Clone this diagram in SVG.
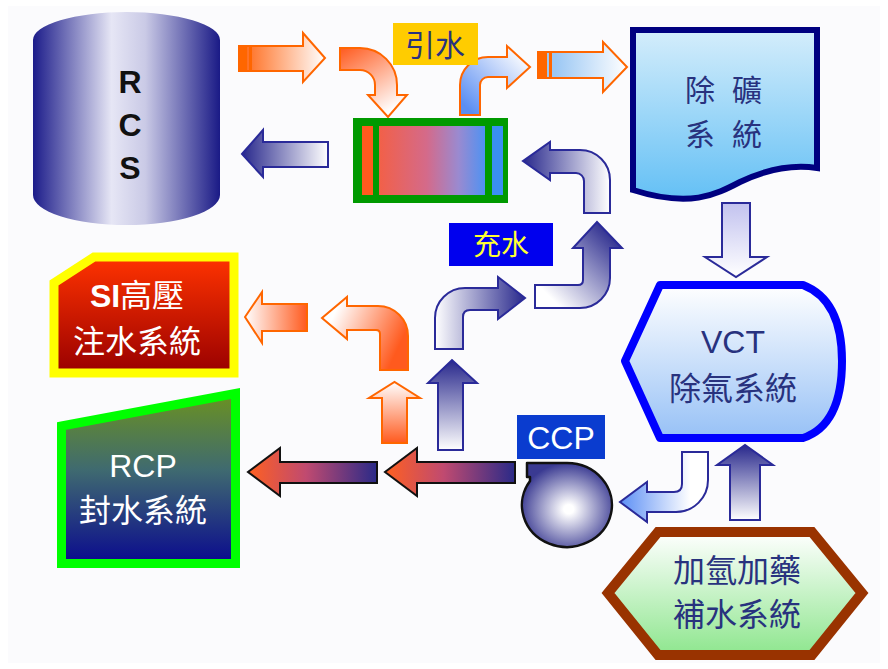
<svg xmlns="http://www.w3.org/2000/svg" width="888" height="669" viewBox="0 0 888 669">
<style>
.cjk{font-family:"Noto Sans CJK TC","Noto Sans CJK SC",sans-serif;text-anchor:middle}
.lat{font-family:"Liberation Sans",Arial,sans-serif;text-anchor:middle}
.navytxt{fill:#28327e}
.whitetxt{fill:#ffffff}
.oa{stroke:#ff6600;stroke-width:2;stroke-linejoin:miter}
.na{stroke:#2a2a99;stroke-width:2}
.ba{stroke:#111111;stroke-width:2}
</style>
<defs>
<linearGradient id="cyl" x1="0" y1="0" x2="1" y2="0">
<stop offset="0" stop-color="#1c1c8a"/><stop offset="0.42" stop-color="#e6e6f5"/><stop offset="0.6" stop-color="#cacae6"/><stop offset="1" stop-color="#1a1a86"/>
</linearGradient>
<linearGradient id="oRW" x1="0" y1="0" x2="1" y2="0"><stop offset="0.05" stop-color="#ff6a1a"/><stop offset="1" stop-color="#ffffff"/></linearGradient>
<linearGradient id="oLW" x1="0" y1="0" x2="1" y2="0"><stop offset="0" stop-color="#ffffff"/><stop offset="1" stop-color="#ff5a1e"/></linearGradient>
<linearGradient id="oDown" x1="0" y1="0" x2="0.6" y2="1"><stop offset="0" stop-color="#ff5a1e"/><stop offset="1" stop-color="#ffffff"/></linearGradient>
<linearGradient id="oCurve" x1="0" y1="0.3" x2="1" y2="0.7"><stop offset="0.1" stop-color="#ffffff"/><stop offset="0.9" stop-color="#ff5a1e"/></linearGradient>
<linearGradient id="oUp" x1="0" y1="0" x2="0" y2="1"><stop offset="0" stop-color="#ffffff"/><stop offset="1" stop-color="#ff5a1e"/></linearGradient>
<linearGradient id="bUpR" x1="0" y1="1" x2="1" y2="0"><stop offset="0.1" stop-color="#5b8ef2"/><stop offset="0.9" stop-color="#ffffff"/></linearGradient>
<linearGradient id="lbR" x1="0" y1="0" x2="1" y2="0"><stop offset="0.2" stop-color="#9cc8f4"/><stop offset="1" stop-color="#ffffff"/></linearGradient>
<linearGradient id="nLW" x1="0" y1="0" x2="1" y2="0"><stop offset="0" stop-color="#28288c"/><stop offset="1" stop-color="#ffffff"/></linearGradient>
<linearGradient id="nRW" x1="0" y1="0" x2="1" y2="0"><stop offset="0" stop-color="#ffffff"/><stop offset="1" stop-color="#28288c"/></linearGradient>
<linearGradient id="nTop" x1="0" y1="0" x2="0" y2="1"><stop offset="0" stop-color="#28288c"/><stop offset="1" stop-color="#ffffff"/></linearGradient>
<linearGradient id="nUpCurve" x1="0" y1="1" x2="1" y2="0"><stop offset="0.15" stop-color="#ffffff"/><stop offset="0.9" stop-color="#28288c"/></linearGradient>
<linearGradient id="lvDown" x1="0" y1="0" x2="0" y2="1"><stop offset="0" stop-color="#c2c2ef"/><stop offset="1" stop-color="#ffffff"/></linearGradient>
<linearGradient id="lbL" x1="0" y1="0" x2="1" y2="0"><stop offset="0" stop-color="#5c8ff5"/><stop offset="0.8" stop-color="#ffffff"/></linearGradient>
<linearGradient id="big" x1="0" y1="0" x2="1" y2="0"><stop offset="0" stop-color="#ff6020"/><stop offset="0.45" stop-color="#c04a70"/><stop offset="1" stop-color="#2a2a88"/></linearGradient>
<linearGradient id="hx" x1="0" y1="0" x2="1" y2="0"><stop offset="0" stop-color="#f26048"/><stop offset="0.45" stop-color="#d46a8a"/><stop offset="0.75" stop-color="#9a8ad0"/><stop offset="1" stop-color="#4f92f2"/></linearGradient>
<linearGradient id="doc" x1="0" y1="0" x2="0" y2="1"><stop offset="0" stop-color="#d4edfb"/><stop offset="1" stop-color="#64c0f5"/></linearGradient>
<linearGradient id="vct" x1="0" y1="0" x2="0" y2="1"><stop offset="0" stop-color="#ffffff"/><stop offset="1" stop-color="#97c1f6"/></linearGradient>
<linearGradient id="si" x1="0" y1="0" x2="0" y2="1"><stop offset="0" stop-color="#ff3300"/><stop offset="1" stop-color="#990000"/></linearGradient>
<linearGradient id="rcp" x1="0" y1="0" x2="0" y2="1"><stop offset="0" stop-color="#6b9220"/><stop offset="0.45" stop-color="#3f6a70"/><stop offset="1" stop-color="#0a0a8e"/></linearGradient>
<linearGradient id="hex" x1="0" y1="0" x2="0" y2="1"><stop offset="0" stop-color="#ffffff"/><stop offset="1" stop-color="#8ee68e"/></linearGradient>
<radialGradient id="pump" cx="0.52" cy="0.55" r="0.55"><stop offset="0.1" stop-color="#ffffff"/><stop offset="1" stop-color="#3a3a92"/></radialGradient>
</defs>
<rect x="0" y="0" width="888" height="669" fill="#ffffff"/>
<rect x="8" y="6" width="872" height="657" fill="#fbfbfd"/>

<g id="connectors">
<polygon class="oa" fill="url(#oRW)" points="239,46 303,46 303,33 325,58 303,82 303,71 239,71"/>
<rect x="239" y="47" width="8" height="23" fill="#ff6600"/>
<rect x="249" y="47" width="3" height="23" fill="#ff6600"/>
<path class="oa" fill="url(#oDown)" d="M340,48 L360,48 A37,37 0 0 1 397,85 L397,95 L407,95 L388,117 L368,95 L375,95 L375,85 A15,15 0 0 0 360,70 L340,70 Z"/>
<path class="oa" fill="url(#bUpR)" d="M460,115 L460,85 A28,28 0 0 1 488,57 L507,57 L507,46 L530,67 L507,88 L507,77 L488,77 A8,8 0 0 0 480,85 L480,115 Z"/>
<polygon class="oa" fill="url(#lbR)" points="538,52 603,52 603,42 627,67 603,92 603,78 538,78"/>
<rect x="538" y="53" width="9" height="24" fill="#ff6600"/>
<rect x="549" y="53" width="3" height="24" fill="#ff6600"/>
<polygon class="na" fill="url(#nLW)" points="242,154 263,130 263,142 328,142 328,167 263,167 263,177"/>
<path class="na" fill="url(#nLW)" d="M610,213 L610,180 A30,30 0 0 0 580,150 L550,150 L550,142 L523,161 L550,180 L550,173 L576,173 A8,8 0 0 1 584,181 L584,213 Z"/>
<polygon class="na" fill="url(#lvDown)" stroke="#4a4aa8" points="722,203 750,203 750,257 767,257 736,277 705,257 722,257"/>
<polygon class="oa" fill="url(#oLW)" points="245,317 262,292 262,304 307,304 307,331 262,331 262,343"/>
<path class="oa" fill="url(#oCurve)" d="M408,370 L408,336 A30,30 0 0 0 378,306 L347,306 L347,297 L322,318 L347,339 L347,330 L376,330 Q380,330 380,334 L380,370 Z"/>
<polygon class="oa" fill="url(#oUp)" points="382,443 382,398 369,398 394.5,382 420,398 407,398 407,443"/>
<polygon class="na" fill="url(#nTop)" points="438,450 438,383 428,383 452,360 477,383 463,383 463,450"/>
<path class="na" fill="url(#nRW)" d="M435,349 L435,318 A30,30 0 0 1 465,288 L498,288 L498,277 L525,298 L498,319 L498,310 L470,310 Q463,310 463,317 L463,349 Z"/>
<path class="na" fill="url(#nUpCurve)" d="M535,285 L578,285 Q583,285 583,280 L583,248 L573,248 L597,222 L622,248 L610,248 L610,278 A30,30 0 0 1 580,308 L535,308 Z"/>
<polygon class="ba" fill="url(#big)" points="515,462 417,462 417,448 385,472 417,496 417,483 515,483"/>
<polygon class="ba" fill="url(#big)" points="377,462 280,462 280,448 248,472 280,496 280,483 377,483"/>
<path class="na" fill="url(#lbL)" d="M682,452 L708,452 L708,480 A32,32 0 0 1 676,512 L647,512 L647,522 L620,502 L647,482 L647,492 L674,492 Q682,492 682,484 Z"/>
<polygon class="na" fill="url(#nTop)" points="730,520 730,465 717,465 745,445 773,465 760,465 760,520"/>
</g>

<g id="rcs">
<path d="M33,40 A93.5,28 0 0 1 220,40 L220,195 A93.5,30 0 0 1 33,195 Z" fill="url(#cyl)"/>
<text class="lat" x="130" y="93" font-size="32" font-weight="bold" fill="#111">R</text>
<text class="lat" x="130" y="136" font-size="32" font-weight="bold" fill="#111">C</text>
<text class="lat" x="130" y="179" font-size="32" font-weight="bold" fill="#111">S</text>
</g>

<g id="label-yinshui">
<rect x="393" y="23" width="85" height="42" fill="#ffcc00"/>
<text class="cjk navytxt" x="435" y="56" font-size="30">引水</text>
</g>

<g id="heat-exchanger">
<rect x="353" y="118" width="155" height="85" fill="#009a00"/>
<rect x="362" y="126" width="11" height="69" fill="#ff5a1e"/>
<rect x="379" y="126" width="106" height="69" fill="url(#hx)"/>
<rect x="492" y="126" width="11" height="69" fill="#3a8ff2"/>
</g>

<g id="demineralizer">
<path d="M633,30 H817 V168 C790,164 765,170 740,182 C715,195 690,208 633,190 Z" fill="url(#doc)" stroke="#000080" stroke-width="6" stroke-linejoin="miter"/>
<text class="cjk navytxt" x="700" y="101" font-size="30">除</text>
<text class="cjk navytxt" x="747" y="101" font-size="30">礦</text>
<text class="cjk navytxt" x="700" y="145" font-size="30">系</text>
<text class="cjk navytxt" x="747" y="145" font-size="30">統</text>
</g>

<g id="label-chongshui">
<rect x="449" y="223" width="104" height="43" fill="#0000ee"/>
<text class="cjk" x="501" y="255" font-size="28" fill="#ffff33">充水</text>
</g>

<g id="vct">
<path d="M660,285 L803,285 Q842,300 842,361 Q842,425 803,438 L660,438 L625,361 Z" fill="url(#vct)" stroke="#0000ff" stroke-width="8" stroke-linejoin="round"/>
<text class="lat navytxt" x="733" y="353" font-size="32">VCT</text>
<text class="cjk navytxt" x="733" y="400" font-size="32">除氣系統</text>
</g>

<g id="si">
<polygon points="94,257 234,257 234,373 54,373 54,283" fill="url(#si)" stroke="#ffff00" stroke-width="9"/>
<text x="137" y="307" font-size="32" fill="#fff" text-anchor="middle"><tspan font-family="Liberation Sans, Arial, sans-serif" font-weight="bold">SI</tspan><tspan font-family="Noto Sans CJK TC, sans-serif">高壓</tspan></text>
<text class="cjk whitetxt" x="137" y="353" font-size="32">注水系統</text>
</g>

<g id="rcp">
<polygon points="61.5,426 235.5,393.5 235.5,563.5 61.5,563.5" fill="url(#rcp)" stroke="#00ff00" stroke-width="9"/>
<text class="lat whitetxt" x="143" y="477" font-size="32">RCP</text>
<text class="cjk whitetxt" x="143" y="522" font-size="32">封水系統</text>
</g>

<g id="ccp">
<rect x="517" y="415" width="88" height="44" fill="#0a3ccf"/>
<text class="lat whitetxt" x="561" y="449" font-size="32">CCP</text>
<path d="M527,463 L567,463 A45,42 0 1 1 530,481 L530,477 L527,477 Z" fill="url(#pump)" stroke="#111" stroke-width="2.5" stroke-linejoin="round"/>
</g>

<g id="makeup">
<polygon points="608,593 658,532 812,532 862,593 812,655 658,655" fill="url(#hex)" stroke="#993300" stroke-width="10"/>
<text class="cjk navytxt" x="737" y="582" font-size="32">加氫加藥</text>
<text class="cjk navytxt" x="737" y="626" font-size="32">補水系統</text>
</g>
</svg>
